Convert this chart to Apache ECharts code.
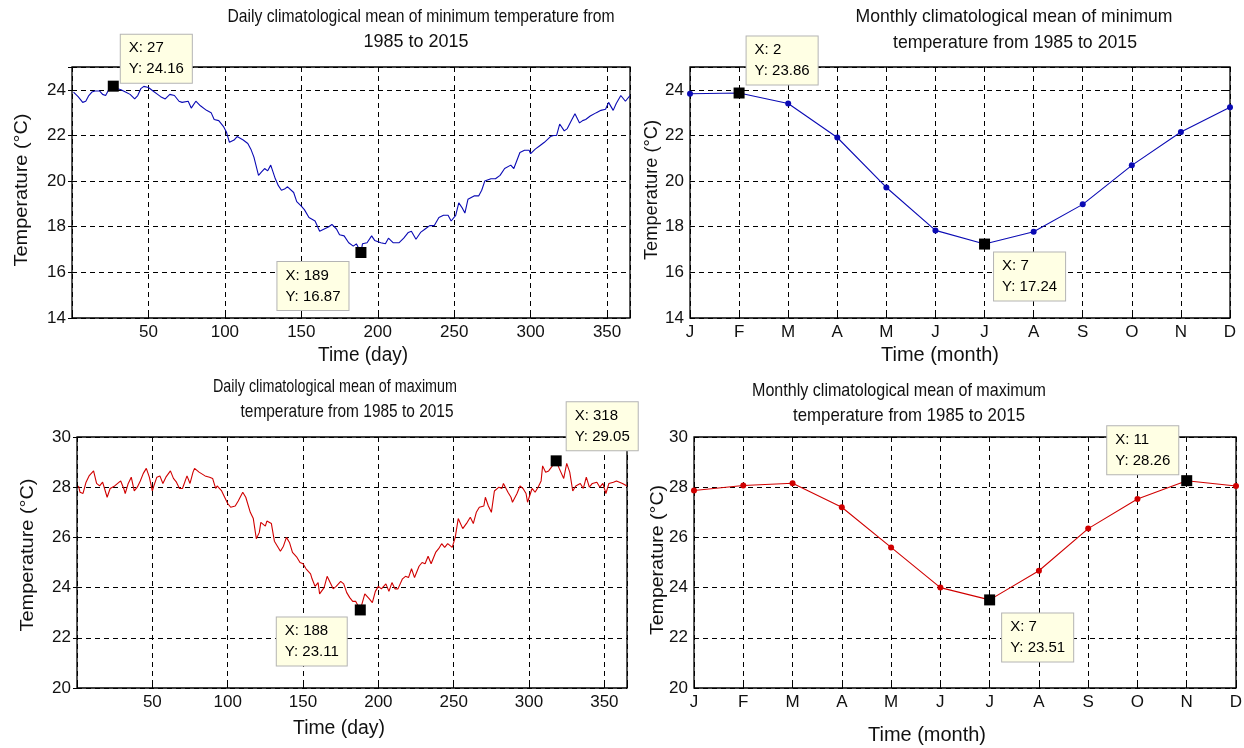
<!DOCTYPE html>
<html><head><meta charset="utf-8">
<script src="https://cdn.jsdelivr.net/npm/echarts@6/dist/echarts.min.js"></script>
<style>html,body{margin:0;padding:0;background:#fff}#c{width:1244px;height:748px}</style>
</head><body><div id="c"></div>
<script>
// ---------- data ----------
const minDays = [1,4,7,9,11,13,15,18,20,22,24,27,30,32,35,38,41,43,45,47,50,53,56,58,61,64,67,70,72,76,78,81,84,88,91,93,96,99,101,103,106,108,112,115,117,119,122,124,126,128,130,133,135,137,139,141,145,147,150,152,155,159,162,165,168,170,173,175,178,181,184,186,189,190,193,196,198,202,205,207,210,214,217,220,222,225,228,231,234,237,240,243,246,248,251,253,255,257,259,263,266,268,270,274,277,280,283,287,289,291,293,296,299,300,303,306,309,313,315,317,319,322,324,327,329,332,334,336,339,343,346,349,351,354,356,359,362,365];
const minTemps = [23.9,23.7,23.45,23.5,23.75,23.9,23.95,23.95,23.8,23.75,24.0,24.16,24.05,24.0,23.9,23.8,23.6,23.75,24.05,24.15,24.1,23.95,23.8,23.7,23.6,23.8,23.75,23.5,23.45,23.5,23.2,23.5,23.3,23.1,23.0,22.7,22.65,22.4,22.15,21.7,21.8,21.95,21.8,21.65,21.4,21.05,20.25,20.4,20.55,20.45,20.7,20.1,19.8,19.6,19.65,19.75,19.5,19.1,18.9,18.75,18.4,18.25,17.8,17.9,18.0,18.1,17.9,17.65,17.6,17.3,17.15,17.25,16.87,17.25,17.3,17.6,17.4,17.3,17.25,17.5,17.3,17.3,17.5,17.75,17.8,17.45,17.75,17.9,18.05,18.05,18.4,18.5,18.5,18.25,18.5,19.05,18.85,18.6,19.2,19.35,19.35,19.6,20.0,20.1,20.1,20.25,20.55,20.7,20.55,20.9,21.25,21.35,21.35,21.2,21.4,21.55,21.7,21.95,22.0,22.0,22.5,22.2,22.3,22.7,22.95,22.55,22.65,22.7,22.85,23.0,23.1,23.15,23.45,23.1,23.4,23.75,23.5,23.75];

const maxDays = [1,2,4,6,8,11,13,15,17,19,20,22,25,29,31,32,34,36,38,40,42,44,46,48,50,51,53,55,57,59,62,64,66,68,70,73,75,77,78,81,85,88,90,92,93,96,98,100,102,105,107,110,112,115,117,119,121,122,125,126,129,131,133,135,137,139,141,143,146,148,150,152,155,156,158,160,161,164,166,168,170,172,175,177,179,181,183,185,188,191,194,196,198,200,202,205,207,209,211,213,216,218,220,222,224,227,229,231,233,235,238,240,242,244,246,249,251,253,254,256,259,261,263,265,267,270,271,273,275,277,280,282,283,286,288,289,292,294,296,298,299,302,304,306,308,309,311,313,318,320,323,325,327,329,331,334,336,338,340,342,345,347,349,351,353,356,358,360,362,365];
const maxTemps = [28.05,27.8,27.75,28.2,28.45,28.65,28.15,28.05,28.2,27.8,27.6,27.95,28.05,28.25,27.95,27.75,28.15,28.4,27.85,28.0,28.25,28.55,28.75,28.4,27.85,28.05,28.4,28.45,28.15,28.4,28.65,28.35,28.2,27.95,27.95,28.45,28.15,28.6,28.75,28.6,28.45,28.4,28.35,27.95,28.05,27.85,27.6,27.35,27.2,27.25,27.45,27.8,27.6,27.0,26.75,25.95,26.2,26.6,26.45,26.65,26.55,25.85,25.65,25.45,25.65,26.0,25.8,25.4,25.2,25.0,24.95,24.75,24.55,24.35,24.05,24.2,23.75,24.0,24.45,24.2,23.95,24.05,24.25,24.15,23.8,23.6,23.45,23.45,23.11,23.75,23.55,23.4,23.85,24.05,23.95,24.15,23.85,24.2,23.95,23.95,24.35,24.45,24.4,24.75,24.4,24.85,25.0,24.95,25.25,24.95,25.4,25.55,25.75,25.6,25.75,25.6,26.0,26.75,26.8,26.35,26.6,26.8,26.55,27.0,27.2,27.25,27.6,27.25,27.0,27.85,28.0,27.95,28.15,27.8,27.6,27.4,27.75,28.05,27.95,27.75,27.4,27.95,27.8,28.0,28.25,28.85,28.6,28.65,29.05,28.75,28.35,28.95,28.6,27.85,28.05,28.15,27.95,28.4,28.0,28.15,28.2,28.0,28.15,27.75,28.15,28.2,28.25,28.2,28.15,28.05];

const monthNums = [1,2,3,4,5,6,7,8,9,10,11,12];
const monthLabels = ['J','F','M','A','M','J','J','A','S','O','N','D'];
const monthMin = [23.83,23.86,23.4,21.91,19.72,17.84,17.24,17.78,18.98,20.69,22.15,23.24];
const monthMax = [27.87,28.07,28.16,27.2,25.6,24.0,23.51,24.67,26.35,27.53,28.26,28.05];

const tipsMinDaily = [[27,24.16],[189,16.87]];
const tipsMinMonthly = [[2,23.86],[7,17.24]];
const tipsMaxDaily = [[188,23.11],[318,29.05]];
const tipsMaxMonthly = [[7,23.51],[11,28.26]];

const dayTicks = [50,100,150,200,250,300,350];

// ---------- layout ----------
const grids = [
  {left:72, top:67, width:558, height:251},
  {left:690, top:67, width:540, height:251},
  {left:77, top:437, width:550, height:251},
  {left:694, top:437, width:542, height:251}
];
const tipOffsets = [
  [[8,-51],[-83,10]],
  [[8,-56],[10,9]],
  [[-83,8],[11,-58]],
  [[13,14],[-79,-54]]
];
const FONT = '"Liberation Sans", Arial, sans-serif';
const BLUE = '#0a0ab4', RED = '#d00000';

const pairs = (xs, ys) => xs.map((x, i) => [x, ys[i]]);

const xAxes = [], yAxes = [];
grids.forEach((g, i) => {
  const isDay = (i === 0 || i === 2);
  const base = isDay
    ? {type:'value', min:0, max:365, interval:50}
    : {type:'value', min:1, max:12, interval:1};
  const fmt = isDay
    ? (v => dayTicks.includes(v) ? String(v) : '')
    : (v => monthLabels[v - 1] || '');
  const tick = {show:true, inside:true, length:4, lineStyle:{color:'#000', width:1}};
  xAxes.push(Object.assign({}, base, {
    gridIndex:i, position:'bottom',
    axisLine:{show:false}, axisTick:tick,
    axisLabel:{formatter:fmt, color:'#111', fontSize:17, fontFamily:FONT, margin:6},
    splitLine:{show:true, lineStyle:{color:'#000', width:1, type:[5,4]}}
  }));
  xAxes.push(Object.assign({}, base, {
    gridIndex:i, position:'top',
    axisLine:{show:false}, axisTick:tick, axisLabel:{show:false}, splitLine:{show:false}
  }));
  const ybase = (i < 2) ? {type:'value', min:14, max:25, interval:2}
                        : {type:'value', min:20, max:30, interval:2};
  yAxes.push(Object.assign({}, ybase, {
    gridIndex:i, position:'left',
    axisLine:{show:false}, axisTick:tick,
    axisLabel:{formatter:v => (v % 2 === 0 ? String(v) : ''), color:'#111', fontSize:17, fontFamily:FONT, margin:6},
    splitLine:{show:true, lineStyle:{color:'#000', width:1, type:[5,4]}}
  }));
  yAxes.push(Object.assign({}, ybase, {
    gridIndex:i, position:'right',
    axisLine:{show:false}, axisTick:tick, axisLabel:{show:false}, splitLine:{show:false}
  }));
});

function markPt(tips, offs) {
  return {
    symbol:'rect', symbolSize:11, itemStyle:{color:'#000'},
    label:{
      show:true, formatter:'{b}', color:'#000', fontSize:15, fontFamily:FONT,
      lineHeight:21, align:'left', verticalAlign:'top',
      backgroundColor:'#ffffe4', borderColor:'#b4b4b4', borderWidth:1, padding:[3,8,3,8]
    },
    data: tips.map((t, k) => ({
      coord:t, name:'X: ' + t[0] + '\nY: ' + t[1].toFixed(2),
      label:{position:[offs[k][0] + 5, offs[k][1] + 5]}
    }))
  };
}

const series = [
  {type:'line', xAxisIndex:0, yAxisIndex:0, data:pairs(minDays, minTemps), showSymbol:false,
   lineStyle:{color:BLUE, width:1.1}, itemStyle:{color:BLUE}, markPoint:markPt(tipsMinDaily, tipOffsets[0])},
  {type:'line', xAxisIndex:2, yAxisIndex:2, data:pairs(monthNums, monthMin), symbol:'circle', symbolSize:6,
   lineStyle:{color:BLUE, width:1.1}, itemStyle:{color:BLUE}, markPoint:markPt(tipsMinMonthly, tipOffsets[1])},
  {type:'line', xAxisIndex:4, yAxisIndex:4, data:pairs(maxDays, maxTemps), showSymbol:false,
   lineStyle:{color:RED, width:1.1}, itemStyle:{color:RED}, markPoint:markPt(tipsMaxDaily, tipOffsets[2])},
  {type:'line', xAxisIndex:6, yAxisIndex:6, data:pairs(monthNums, monthMax), symbol:'circle', symbolSize:6,
   lineStyle:{color:RED, width:1.1}, itemStyle:{color:RED}, markPoint:markPt(tipsMaxMonthly, tipOffsets[3])}
];

// ---------- text (titles and axis names) ----------
const mctx = document.createElement('canvas').getContext('2d');
function txt(text, cx, cy, size, targetW, rot) {
  const font = size + 'px ' + FONT;
  mctx.font = font;
  const w = mctx.measureText(text).width || 1;
  return {type:'text', x:cx, y:cy, rotation:rot || 0, scaleX:targetW / w, z:50,
    style:{text:text, font:font, fill:'#111', textAlign:'center', textVerticalAlign:'middle'}};
}
const graphic = [
  txt('Daily climatological mean of minimum temperature from', 421, 17, 19, 387),
  txt('1985 to 2015', 416, 42, 19, 105),
  txt('Monthly climatological mean of minimum', 1014, 17, 19, 317),
  txt('temperature from 1985 to 2015', 1015, 43, 19, 244),
  txt('Daily climatological mean of maximum', 335, 387, 19, 244),
  txt('temperature from 1985 to 2015', 347, 412, 19, 213),
  txt('Monthly climatological mean of maximum', 899, 391, 19, 294),
  txt('temperature from 1985 to 2015', 909, 416, 19, 232),
  txt('Time (day)', 363, 355, 20, 90),
  txt('Time (month)', 940, 355, 20, 118),
  txt('Time (day)', 339, 728, 20, 92),
  txt('Time (month)', 927, 735, 20, 118),
  txt('Temperature (°C)', 22, 190, 18, 153, Math.PI / 2),
  txt('Temperature (°C)', 652, 190, 18, 140, Math.PI / 2),
  txt('Temperature (°C)', 28, 555, 18, 153, Math.PI / 2),
  txt('Temperature (°C)', 658, 560, 18, 150, Math.PI / 2)
];

const chart = echarts.init(document.getElementById('c'));
chart.setOption({
  backgroundColor:'#fff',
  animation:false,
  grid: grids.map(g => Object.assign({show:true, borderColor:'#000', borderWidth:1.3, backgroundColor:'#fff',
    containLabel:false, outerBoundsMode:'none'}, g)),
  xAxis:xAxes, yAxis:yAxes, series:series, graphic:graphic
});
</script></body></html>
